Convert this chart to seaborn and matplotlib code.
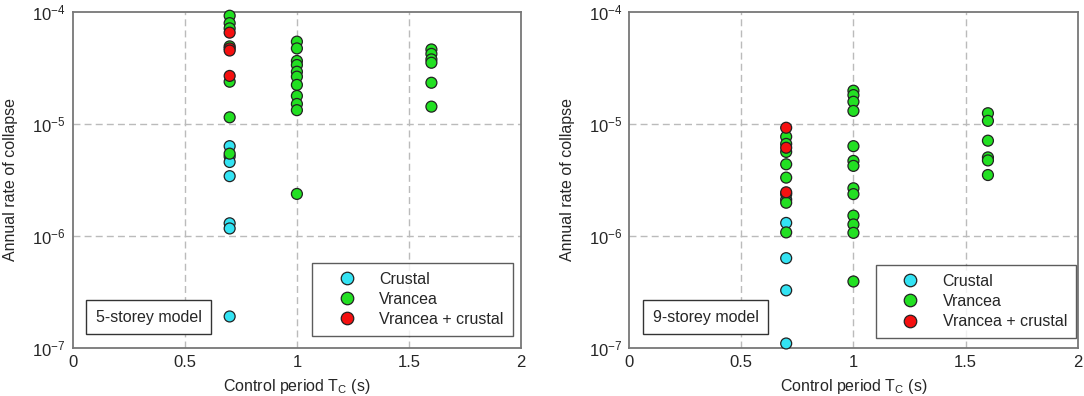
import numpy as np
import pandas as pd
import matplotlib
matplotlib.use("Agg")
import matplotlib.pyplot as plt
import seaborn as sns
from matplotlib.lines import Line2D
from matplotlib.ticker import MultipleLocator, LogLocator, NullFormatter, FixedLocator, FixedFormatter

# ------------------------------------------------------------------
# Data (annual rate of collapse vs T_C)
# ------------------------------------------------------------------
GROUPS = ["Crustal", "Vrancea", "Vrancea + crustal"]

# 5-storey model
t_crustal_5 = [0.7] * 7
r_crustal_5 = [6.3e-6, 5.1e-6, 4.55e-6, 3.4e-6, 1.29e-6, 1.16e-6, 1.9e-7]
t_vrancea_5 = [0.7] * 7 + [1.0] * 11 + [1.6] * 6
r_vrancea_5 = [9.2e-5, 7.9e-5, 7.1e-5, 4.9e-5, 2.37e-5, 1.14e-5, 5.4e-6,
               5.4e-5, 4.7e-5, 3.63e-5, 3.34e-5, 2.91e-5, 2.63e-5, 2.22e-5, 1.77e-5, 1.5e-5, 1.32e-5, 2.36e-6,
               4.6e-5, 4.2e-5, 3.75e-5, 3.5e-5, 2.32e-5, 1.42e-5]
t_mixed_5 = [0.7] * 4
r_mixed_5 = [6.5e-5, 4.7e-5, 4.5e-5, 2.67e-5]

# 9-storey model
t_crustal_9 = [0.7] * 5
r_crustal_9 = [2.1e-6, 1.3e-6, 6.3e-7, 3.25e-7, 1.09e-7]
t_vrancea_9 = [0.7] * 8 + [1.0] * 13 + [1.6] * 6
r_vrancea_9 = [7.65e-6, 6.6e-6, 5.6e-6, 4.34e-6, 3.3e-6, 2.35e-6, 1.97e-6, 1.07e-6,
               1.97e-5, 1.8e-5, 1.57e-5, 1.3e-5, 6.3e-6, 4.65e-6, 4.2e-6, 2.65e-6, 2.35e-6,
               1.51e-6, 1.26e-6, 1.06e-6, 3.9e-7,
               1.24e-5, 1.06e-5, 7.05e-6, 5.0e-6, 4.7e-6, 3.48e-6]
t_mixed_9 = [0.7] * 3
r_mixed_9 = [9.2e-6, 6.1e-6, 2.44e-6]

PALETTE = {"Crustal": "#33E3F3", "Vrancea": "#22E022", "Vrancea + crustal": "#F51010"}

x_ticks = [0, 0.5, 1, 1.5, 2]
x_labels = ["0", "0.5", "1", "1.5", "2"]
y_ticks = [1e-7, 1e-6, 1e-5, 1e-4]
y_labels = ["$10^{-7}$", "$10^{-6}$", "$10^{-5}$", "$10^{-4}$"]

FS = 11.5


def build_frame(tc, rc, tv, rv, tm, rm):
    rows = []
    for name, ts, rs in zip(GROUPS, [tc, tv, tm], [rc, rv, rm]):
        for t, r in zip(ts, rs):
            rows.append({"Tc": t, "rate": r, "Source": name})
    return pd.DataFrame(rows)


df5 = build_frame(t_crustal_5, r_crustal_5, t_vrancea_5, r_vrancea_5, t_mixed_5, r_mixed_5)
df9 = build_frame(t_crustal_9, r_crustal_9, t_vrancea_9, r_vrancea_9, t_mixed_9, r_mixed_9)

sns.set_style("white")
plt.rcParams["font.family"] = ["Liberation Sans", "DejaVu Sans"]
plt.rcParams["mathtext.fontset"] = "custom"
plt.rcParams["mathtext.rm"] = "Liberation Sans"
plt.rcParams["mathtext.it"] = "Liberation Sans:italic"

fig = plt.figure(figsize=(10.84, 3.96), dpi=100)
ax1 = fig.add_axes([0.0671, 0.122, 0.4136, 0.8485])
ax2 = fig.add_axes([0.5805, 0.122, 0.4136, 0.8485])

panels = [(ax1, df5, "5-storey model", (0.981, 0.036)),
          (ax2, df9, "9-storey model", (0.996, 0.029))]

for ax, df, label, leg_anchor in panels:
    ax.set_yscale("log")
    ax.set_xlim(0, 2)
    ax.set_ylim(1e-7, 1e-4)

    # dashed grid at major ticks
    for gx in [0.5, 1.0, 1.5]:
        ax.axvline(gx, color="#BBBBBB", lw=1.0, ls=(0, (5, 3)), zorder=0)
    for gy in [1e-6, 1e-5]:
        ax.axhline(gy, color="#BBBBBB", lw=1.0, ls=(0, (5, 3)), zorder=0)

    sns.scatterplot(data=df, x="Tc", y="rate", hue="Source", hue_order=GROUPS,
                    palette=PALETTE, s=62, edgecolor="#222222", linewidth=0.9,
                    legend=False, ax=ax, zorder=3, clip_on=False)

    ax.xaxis.set_major_locator(FixedLocator(x_ticks))
    ax.xaxis.set_major_formatter(FixedFormatter(x_labels))
    ax.xaxis.set_minor_locator(MultipleLocator(0.1))
    ax.yaxis.set_major_locator(FixedLocator(y_ticks))
    ax.yaxis.set_major_formatter(FixedFormatter(y_labels))
    ax.yaxis.set_minor_locator(LogLocator(base=10, subs=np.arange(2, 10)))
    ax.yaxis.set_minor_formatter(NullFormatter())

    ax.tick_params(which="both", direction="in", top=False, right=False,
                   labelsize=FS + 0.5, color="#555555")
    ax.tick_params(which="major", length=5, width=1, pad=5)
    ax.tick_params(which="minor", length=3, width=0.8)

    for sp in ax.spines.values():
        sp.set_color("#777777")
        sp.set_linewidth(1.3)

    ax.set_xlabel("Control period T$_\\mathrm{C}$ (s)", fontsize=FS, labelpad=5)
    ax.set_ylabel("Annual rate of collapse", fontsize=FS, labelpad=10)

    handles = [Line2D([], [], marker="o", ls="", markersize=9,
                      markerfacecolor=PALETTE[g], markeredgecolor="#222222",
                      markeredgewidth=0.9, label=g) for g in GROUPS]
    leg = ax.legend(handles=handles, loc="lower right", bbox_to_anchor=leg_anchor,
                    borderaxespad=0, frameon=True, fancybox=False, fontsize=FS,
                    handletextpad=0.45, borderpad=0.55, labelspacing=0.32,
                    handlelength=3.2)
    leg.get_frame().set_edgecolor("#333333")
    leg.get_frame().set_linewidth(1.0)

    ax.text(0.170, 0.091, label, transform=ax.transAxes, ha="center", va="center",
            fontsize=FS, zorder=5,
            bbox=dict(boxstyle="square,pad=0.6", facecolor="white",
                      edgecolor="#333333", linewidth=1.0))

fig.savefig("out.png", dpi=100)
